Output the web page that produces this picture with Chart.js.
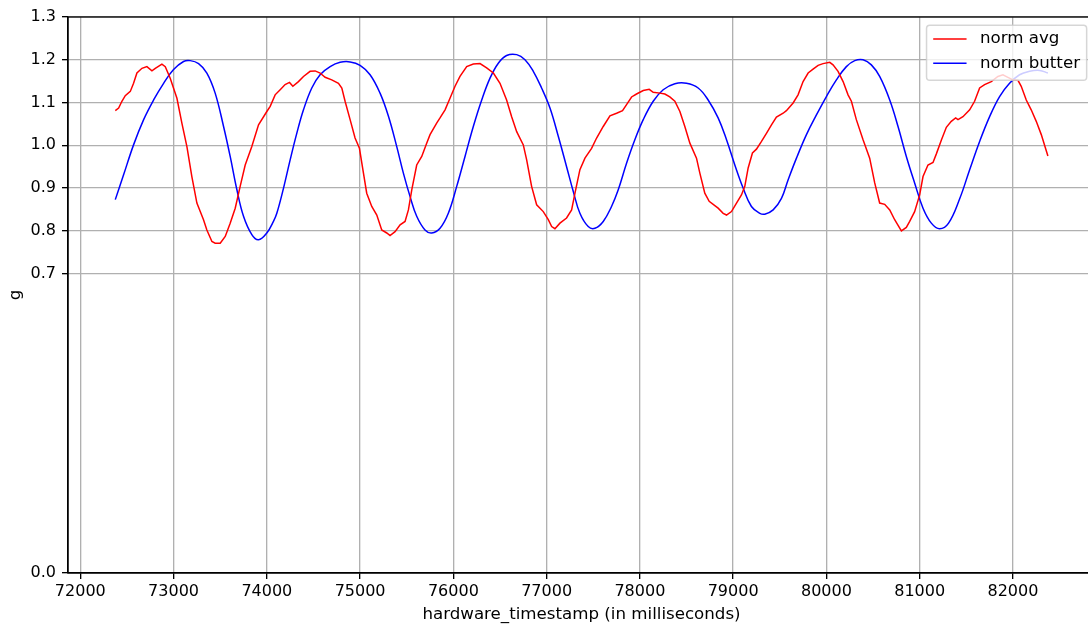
<!DOCTYPE html>
<html><head><meta charset="utf-8">
<script src="https://cdn.jsdelivr.net/npm/chart.js@4.4.1/dist/chart.umd.min.js"></script>
<style>
html,body{margin:0;padding:0;background:#fff;overflow:hidden;width:1088px;height:626px}
#wrap{position:relative;width:1096px;height:626px}
</style></head>
<body><div id="wrap"><canvas id="c"></canvas></div>
<script>
const seriesNames = ['norm avg', 'norm butter'];
const seriesColors = ['#ff0000', '#0000ff'];
const xTicks = [72000, 73000, 74000, 75000, 76000, 77000, 78000, 79000, 80000, 81000, 82000];
const yTicks = [0.0, 0.7, 0.8, 0.9, 1.0, 1.1, 1.2, 1.3];

const avgTime = [72375,72411,72446,72482,72536,72571,72607,72661,72714,72768,72804,72875,72911,72964,73036,73089,73143,73196,73250,73321,73357,73411,73446,73500,73554,73607,73661,73714,73768,73839,73911,74000,
74036,74089,74143,74196,74243,74279,74339,74393,74464,74518,74571,74625,74696,74768,74804,74839,74893,74946,74993,75036,75071,75125,75179,75232,75286,75321,75375,75429,75482,75518,75554,75607,75661,75714,75750,75821,
75857,75911,75964,76018,76071,76143,76214,76286,76357,76429,76500,76571,76625,76679,76750,76786,76839,76893,76964,77018,77054,77089,77143,77214,77268,77304,77357,77411,77482,77536,77607,
77679,77750,77814,77857,77911,77964,78036,78100,78143,78214,78268,78321,78375,78429,78482,78536,78607,78643,78696,78743,78786,78839,78893,78929,78982,79036,79089,79125,79161,79207,79250,79304,79357,79411,79464,
79536,79571,79643,79696,79750,79804,79857,79911,79964,80036,80071,80125,80179,80232,80268,80321,80393,80464,80518,80571,80625,80679,80732,80804,80857,80893,80946,81000,
81036,81089,81143,81179,81232,81286,81339,81386,81411,81464,81536,81589,81643,81696,81768,81839,81893,81946,82000,82054,82089,82143,82196,82250,82304,82375];
const avgValue = [1.081,1.087,1.103,1.116,1.126,1.145,1.169,1.180,1.184,1.174,1.180,1.190,1.184,1.157,1.110,1.052,0.997,0.927,0.865,0.826,0.802,0.775,0.771,0.771,0.787,0.818,0.853,0.904,0.954,0.997,1.048,1.079,
1.091,1.118,1.130,1.142,1.147,1.138,1.149,1.161,1.173,1.174,1.169,1.159,1.153,1.145,1.134,1.103,1.060,1.017,0.993,0.935,0.888,0.857,0.837,0.802,0.795,0.789,0.798,0.814,0.822,0.849,0.896,0.954,0.974,1.005,1.025,1.052,
1.064,1.083,1.110,1.138,1.161,1.184,1.190,1.191,1.181,1.169,1.145,1.106,1.067,1.032,1.001,0.966,0.904,0.861,0.845,0.826,0.810,0.805,0.818,0.830,0.849,0.888,0.943,0.970,0.993,1.017,1.044,
1.069,1.075,1.081,1.095,1.113,1.120,1.128,1.131,1.124,1.122,1.120,1.113,1.103,1.079,1.044,1.005,0.970,0.935,0.888,0.869,0.862,0.853,0.841,0.837,0.845,0.865,0.884,0.904,0.947,0.982,0.991,1.009,1.028,1.048,1.066,
1.075,1.081,1.099,1.118,1.149,1.169,1.178,1.187,1.191,1.194,1.188,1.173,1.149,1.118,1.103,1.060,1.013,0.970,0.912,0.865,0.862,0.849,0.826,0.800,0.808,0.822,0.845,0.884,
0.927,0.954,0.960,0.980,1.012,1.042,1.056,1.064,1.060,1.067,1.083,1.103,1.134,1.142,1.149,1.161,1.165,1.159,1.153,1.152,1.138,1.106,1.083,1.056,1.025,0.975];

const butterTime = [72375,72464,72571,72679,72786,72893,73000,73107,73179,73268,73357,73446,73536,73607,73679,73750,73839,73911,74000,74071,
74107,74179,74250,74321,74393,74482,74571,74679,74786,74893,75000,75107,75214,75304,75393,75464,75536,75607,75696,75768,
75857,75946,76036,76125,76214,76304,76393,76482,76571,76679,76768,76857,76946,77036,77125,77214,77286,77357,77446,77518,77607,77696,
77768,77857,77946,78036,78143,78250,78375,78500,78625,78732,78839,78929,79018,79107,79196,79286,79339,79429,79518,
79589,79679,79786,79893,80000,80107,80214,80304,80393,80482,80571,80679,80768,80857,80946,81036,81125,81214,81310,
81429,81536,81643,81750,81857,81964,82071,82179,82286,82375];
const butterValue = [0.873,0.931,1.001,1.060,1.106,1.145,1.177,1.196,1.198,1.191,1.169,1.122,1.044,0.974,0.896,0.834,0.791,0.779,0.795,0.822,
0.841,0.900,0.966,1.028,1.083,1.134,1.165,1.184,1.194,1.195,1.187,1.165,1.122,1.068,0.997,0.935,0.880,0.834,0.802,0.795,
0.806,0.841,0.904,0.974,1.044,1.106,1.157,1.192,1.210,1.212,1.200,1.173,1.134,1.087,1.021,0.950,0.892,0.841,0.810,0.806,0.822,0.857,
0.896,0.958,1.013,1.060,1.103,1.130,1.144,1.145,1.134,1.106,1.064,1.013,0.954,0.900,0.857,0.841,0.839,0.849,0.876,
0.919,0.970,1.025,1.071,1.114,1.153,1.184,1.198,1.200,1.188,1.161,1.106,1.044,0.974,0.912,0.853,0.818,0.805,0.818,
0.875,0.943,1.009,1.067,1.114,1.145,1.165,1.173,1.175,1.169];

const FONT = 'DejaVu Sans';

const framePlugin = {
  id: 'frame',
  afterDatasetsDraw(chart) {
    const {ctx, chartArea: a} = chart;
    ctx.save();
    ctx.strokeStyle = '#000';
    ctx.lineWidth = 1.33;
    ctx.strokeRect(a.left, a.top, a.right - a.left, a.bottom - a.top);
    ctx.restore();
  }
};

const legendPlugin = {
  id: 'mplLegend',
  afterDraw(chart) {
    const {ctx, chartArea: a} = chart;
    const fs = 16.67;
    ctx.save();
    ctx.font = fs + 'px "' + FONT + '"';
    const textW = Math.max(...seriesNames.map(n => ctx.measureText(n).width));
    const bw = fs * 0.4 * 2 + fs * 2 + fs * 0.8 + textW;
    const bh = 55;
    const right = a.right - fs * 0.5;
    const left = right - bw;
    const top = a.top + fs * 0.5;
    const r = 3.3;
    ctx.beginPath();
    ctx.moveTo(left + r, top);
    ctx.lineTo(right - r, top);
    ctx.quadraticCurveTo(right, top, right, top + r);
    ctx.lineTo(right, top + bh - r);
    ctx.quadraticCurveTo(right, top + bh, right - r, top + bh);
    ctx.lineTo(left + r, top + bh);
    ctx.quadraticCurveTo(left, top + bh, left, top + bh - r);
    ctx.lineTo(left, top + r);
    ctx.quadraticCurveTo(left, top, left + r, top);
    ctx.closePath();
    ctx.fillStyle = 'rgba(255,255,255,0.8)';
    ctx.fill();
    ctx.strokeStyle = 'rgba(204,204,204,0.8)';
    ctx.lineWidth = 1.5;
    ctx.stroke();
    const rows = [top + 13.7, top + 38];
    seriesNames.forEach((name, i) => {
      const y = rows[i];
      const hx = left + fs * 0.4;
      ctx.beginPath();
      ctx.moveTo(hx, y);
      ctx.lineTo(hx + fs * 2, y);
      ctx.strokeStyle = seriesColors[i];
      ctx.lineWidth = 1.5;
      ctx.stroke();
      ctx.fillStyle = '#000';
      ctx.textBaseline = 'middle';
      ctx.textAlign = 'left';
      ctx.fillText(name, hx + fs * 2.8, y);
    });
    ctx.restore();
  }
};

const mk = (xs, ys) => xs.map((t, i) => ({x: t, y: ys[i]}));

new Chart(document.getElementById('c'), {
  type: 'line',
  data: {
    datasets: [
      {label: seriesNames[0], data: mk(avgTime, avgValue), borderColor: seriesColors[0], borderWidth: 1.5, pointRadius: 0, tension: 0, fill: false},
      {label: seriesNames[1], data: mk(butterTime, butterValue), borderColor: seriesColors[1], borderWidth: 1.5, pointRadius: 0, tension: 0.4, fill: false}
    ]
  },
  options: {
    responsive: true,
    maintainAspectRatio: false,
    animation: false,
    devicePixelRatio: 1,
    layout: {padding: {top: 17, right: 1, left: 0, bottom: 0}},
    plugins: {legend: {display: false}, tooltip: {enabled: false}},
    scales: {
      x: {
        type: 'linear', min: 71868, max: 82880,
        afterBuildTicks: s => { s.ticks = xTicks.map(v => ({value: v})); },
        afterFit: s => { s.height = 53; },
        grid: {color: '#b0b0b0', lineWidth: 1.33, tickColor: '#000', tickLength: 6, tickWidth: 1.33},
        border: {color: '#000', width: 1.33},
        ticks: {color: '#000', font: {family: FONT, size: 16}, padding: 3, maxRotation: 0, autoSkip: false, callback: v => String(v)},
        title: {display: true, text: 'hardware_timestamp (in milliseconds)', color: '#000', font: {family: FONT, size: 16.67}, padding: {top: 0, bottom: 1}}
      },
      y: {
        type: 'linear', min: 0, max: 1.3,
        afterBuildTicks: s => { s.ticks = yTicks.map(v => ({value: v})); },
        afterFit: s => { s.width = 68; },
        grid: {color: '#b0b0b0', lineWidth: 1.33, tickColor: '#000', tickLength: 6, tickWidth: 1.33},
        border: {color: '#000', width: 1.33},
        ticks: {color: '#000', font: {family: FONT, size: 16}, padding: 6, autoSkip: false, callback: v => Number(v).toFixed(1)},
        title: {display: true, text: 'g', color: '#000', font: {family: FONT, size: 16.67}, padding: {top: 6, bottom: 0}}
      }
    }
  },
  plugins: [framePlugin, legendPlugin]
});
</script>
</body></html>
